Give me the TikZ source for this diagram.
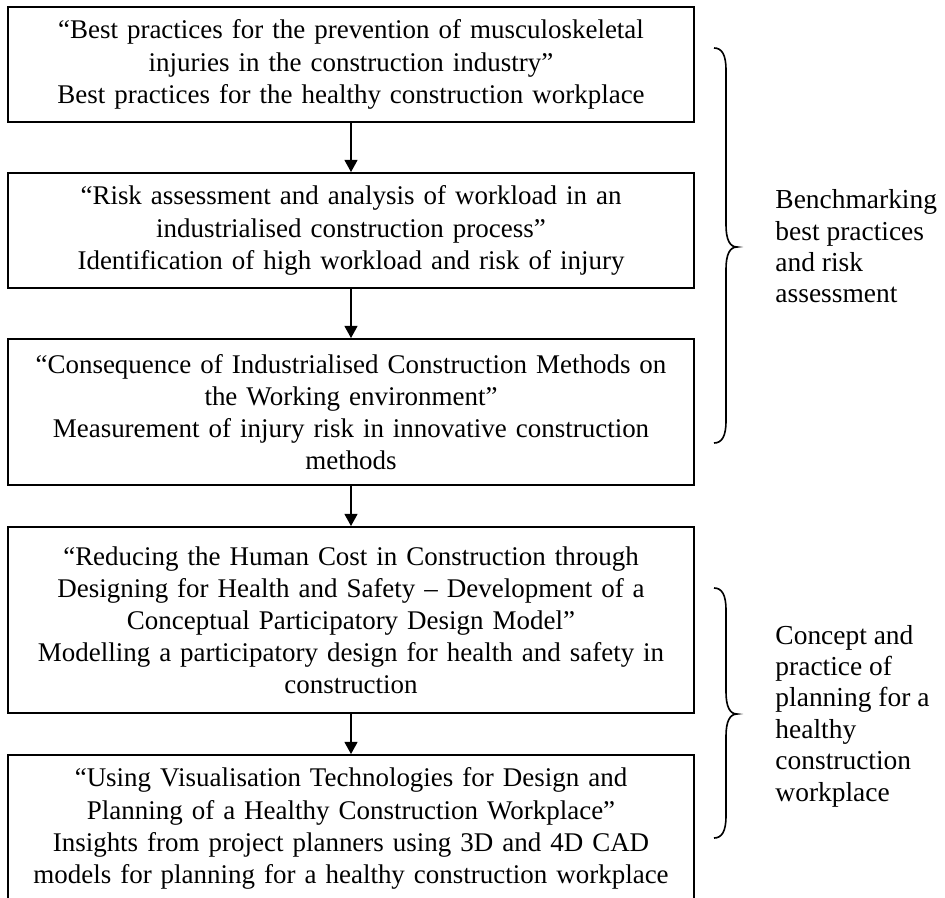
\documentclass[tikz,border=0pt]{standalone}
\usepackage{fontspec}
\setmainfont{Liberation Serif}
\usetikzlibrary{arrows.meta}
\begin{document}
\begin{tikzpicture}[x=0.43pt,y=-0.43pt,
  box/.style={draw, line width=0.85pt, minimum width=295pt, text width=290pt, align=center, inner sep=0pt, font=\fontsize{11.6}{13.8}\selectfont},
  arr/.style={line width=0.5pt, -{Triangle[width=5.6pt,length=5.2pt]}},
  bracestyle/.style={line width=0.7pt},
  lab/.style={anchor=west, align=left, inner sep=0pt, font=\fontsize{11.8}{13.5}\selectfont}]
\useasboundingbox (0,0) rectangle (945,897);
\clip (0,0) rectangle (945,897);
\node[box, minimum height=49.45pt] (b1) at (351,64.5) {“Best practices for the prevention of musculoskeletal\\ injuries in the construction industry”\\ Best practices for the healthy construction workplace};
\node[box, minimum height=49.45pt] (b2) at (351,230.5) {“Risk assessment and analysis of workload in an\\ industrialised construction process”\\ Identification of high workload and risk of injury};
\node[box, minimum height=62.78pt] (b3) at (351,412) {“Consequence of Industrialised Construction Methods on\\ the Working environment”\\ Measurement of injury risk in innovative construction\\ methods};
\node[box, minimum height=79.98pt] (b4) at (351,620) {“Reducing the Human Cost in Construction through\\ Designing for Health and Safety – Development of a\\ Conceptual Participatory Design Model”\\ Modelling a participatory design for health and safety in\\ construction};
\node[box, minimum height=63.21pt] (b5) at (351,828.5) {“Using Visualisation Technologies for Design and\\ Planning of a Healthy Construction Workplace”\\ Insights from project planners using 3D and 4D CAD\\ models for planning for a healthy construction workplace};
\draw[arr] (b1.south) -- (b2.north);
\draw[arr] (b2.south) -- (b3.north);
\draw[arr] (b3.south) -- (b4.north);
\draw[arr] (b4.south) -- (b5.north);
\draw[bracestyle] (714,48) .. controls (722,48) and (726,55) .. (726,70) -- (726,225) .. controls (726,240) and (730,247) .. (737,247) .. controls (730,247) and (726,254) .. (726,269) -- (726,421) .. controls (726,436) and (722,443) .. (714,443);
\draw[bracestyle] (714,588) .. controls (722,588) and (726,595) .. (726,610) -- (726,692) .. controls (726,707) and (730,714) .. (737,714) .. controls (730,714) and (726,721) .. (726,736) -- (726,816) .. controls (726,831) and (722,838) .. (714,838);
\node[lab] (l1) at (775,246.5) {Benchmarking\\ best practices\\ and risk\\ assessment};
\node[lab] (l2) at (775,716) {Concept and\\ practice of\\ planning for a\\ healthy\\ construction\\ workplace};
\end{tikzpicture}
\end{document}
